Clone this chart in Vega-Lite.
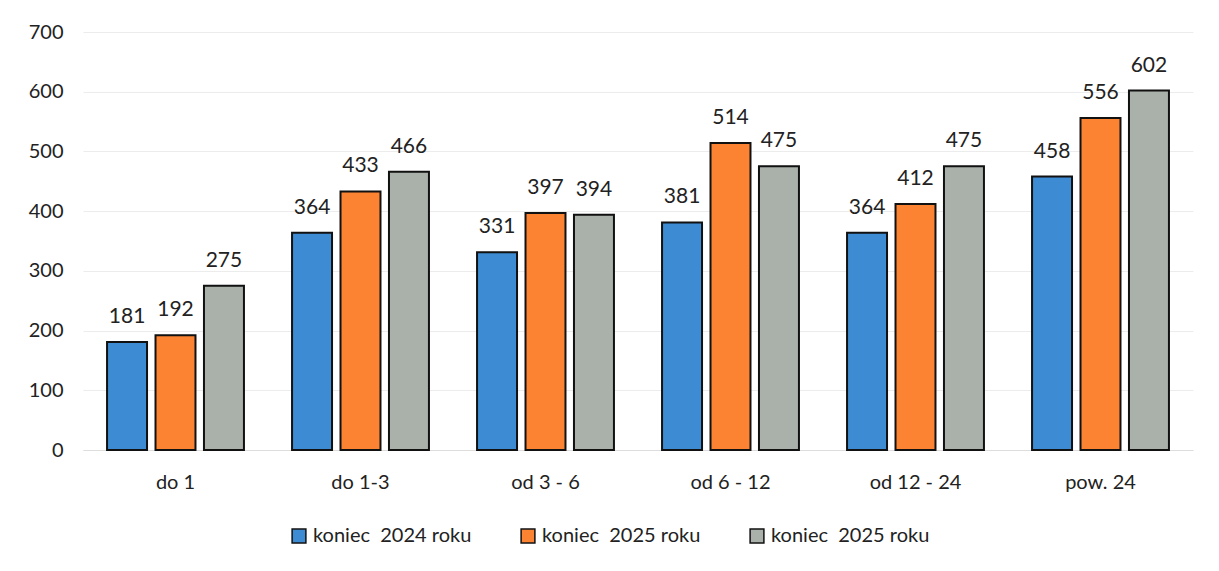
{
  "$schema": "https://vega.github.io/schema/vega-lite/v6.json",
  "autosize": "none",
  "width": 1110,
  "height": 418,
  "padding": {"left": 83, "top": 32, "right": 26, "bottom": 121},
  "background": "white",
  "config": {
    "view": {"stroke": null},
    "font": "Lato",
    "axis": {"labelFont": "Lato", "labelColor": "#222222"},
    "legend": {"labelFont": "Lato"}
  },
  "data": {
    "values": [
      {"cat": "do 1", "s": "a", "v": 181},
      {"cat": "do 1", "s": "b", "v": 192},
      {"cat": "do 1", "s": "c", "v": 275},
      {"cat": "do 1-3", "s": "a", "v": 364},
      {"cat": "do 1-3", "s": "b", "v": 433},
      {"cat": "do 1-3", "s": "c", "v": 466},
      {"cat": "od 3 - 6", "s": "a", "v": 331},
      {"cat": "od 3 - 6", "s": "b", "v": 397},
      {"cat": "od 3 - 6", "s": "c", "v": 394},
      {"cat": "od 6 - 12", "s": "a", "v": 381},
      {"cat": "od 6 - 12", "s": "b", "v": 514},
      {"cat": "od 6 - 12", "s": "c", "v": 475},
      {"cat": "od 12 - 24", "s": "a", "v": 364},
      {"cat": "od 12 - 24", "s": "b", "v": 412},
      {"cat": "od 12 - 24", "s": "c", "v": 475},
      {"cat": "pow. 24", "s": "a", "v": 458},
      {"cat": "pow. 24", "s": "b", "v": 556},
      {"cat": "pow. 24", "s": "c", "v": 602}
    ]
  },
  "encoding": {
    "x": {
      "field": "cat", "type": "nominal", "sort": null,
      "scale": {"paddingInner": 0.26, "paddingOuter": 0.13},
      "axis": {"title": null, "labelAngle": 0, "labelFontSize": 20, "labelPadding": 22, "ticks": false, "domainColor": "#dddddd", "domainWidth": 1, "grid": false}
    },
    "xOffset": {"field": "s", "type": "nominal", "scale": {"paddingInner": 0.175, "paddingOuter": 0}},
    "y": {
      "field": "v", "type": "quantitative",
      "scale": {"domain": [0, 700], "nice": false},
      "axis": {"title": null, "values": [0, 100, 200, 300, 400, 500, 600, 700], "labelFontSize": 20, "labelPadding": 20, "ticks": false, "domain": false, "gridColor": "#ececec", "gridWidth": 1}
    }
  },
  "layer": [
    {
      "mark": {"type": "bar", "stroke": "#111111", "strokeWidth": 2},
      "encoding": {
        "color": {
          "field": "s", "type": "nominal",
          "scale": {"domain": ["a", "b", "c"], "range": ["#3d8bd2", "#fb8332", "#a9b1aa"]},
          "legend": {
            "title": null, "orient": "none", "direction": "horizontal",
            "legendX": 206, "legendY": 494,
            "labelExpr": "datum.value == 'a' ? 'koniec\u00a0 2024 roku' : 'koniec\u00a0 2025 roku'",
            "labelFontSize": 20, "labelColor": "#222222", "symbolType": "square", "symbolSize": 190,
            "symbolStrokeColor": "#111111", "symbolStrokeWidth": 1.5, "labelOffset": 4,
            "columnPadding": 46
          }
        }
      }
    },
    {
      "mark": {"type": "text", "dy": -25, "fontSize": 21, "color": "#222222"},
      "encoding": {"text": {"field": "v", "type": "quantitative"}}
    }
  ]
}
